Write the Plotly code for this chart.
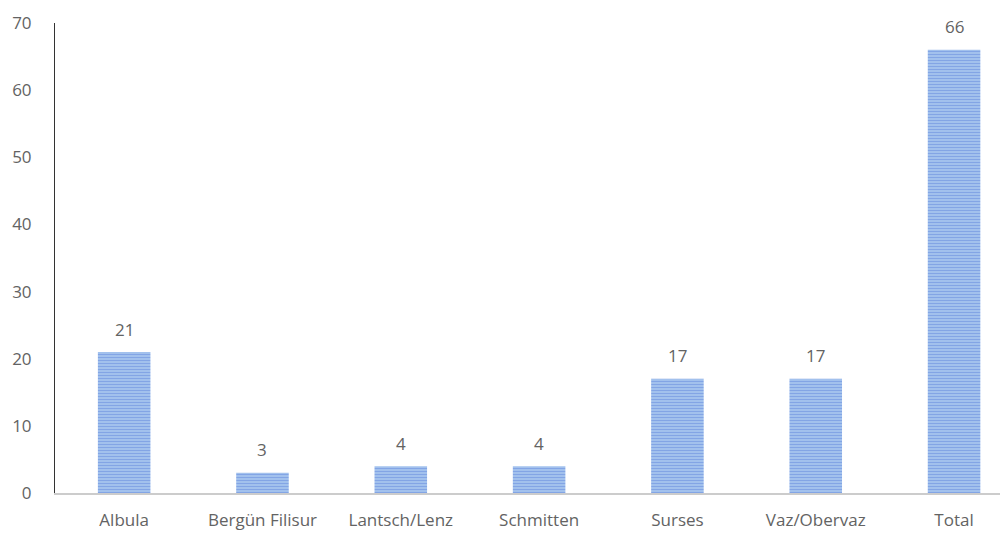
import plotly.graph_objects as go

categories = ["Albula", "Bergün Filisur", "Lantsch/Lenz", "Schmitten", "Surses", "Vaz/Obervaz", "Total"]
values = [21, 3, 4, 4, 17, 17, 66]
y_ticks = [0, 10, 20, 30, 40, 50, 60, 70]

fig = go.Figure(go.Bar(
    x=categories, y=values,
    width=0.38,
    marker=dict(color="#c6e4f5", line=dict(width=0),
                pattern=dict(shape="-", fgcolor="#3f66d6", bgcolor="#c6e4f5", size=3, solidity=0.7)),
))

for c, v in zip(categories, values):
    fig.add_annotation(x=c, y=v, text=str(v), showarrow=False, yanchor="middle", yshift=23,
                       font=dict(size=17, color="#636363", family="Open Sans"))

fig.update_layout(
    width=1000, height=531,
    margin=dict(l=47, r=0, t=15, b=46),
    paper_bgcolor="white", plot_bgcolor="white",
    showlegend=False,
    font=dict(family="Open Sans", color="#636363", size=17),
    xaxis=dict(range=[-0.5, 6.39], showline=True, linecolor="#cccccc", linewidth=2,
               showgrid=False, ticks="", ticklabelstandoff=11, tickfont=dict(size=17),
               automargin=False),
    yaxis=dict(range=[0, 70], tickvals=y_ticks, showline=True, linecolor="#333333", linewidth=1,
               showgrid=False, zeroline=False, ticks="", ticklabelstandoff=19, tickfont=dict(size=17),
               automargin=False),
)

fig.write_html("out.html")
